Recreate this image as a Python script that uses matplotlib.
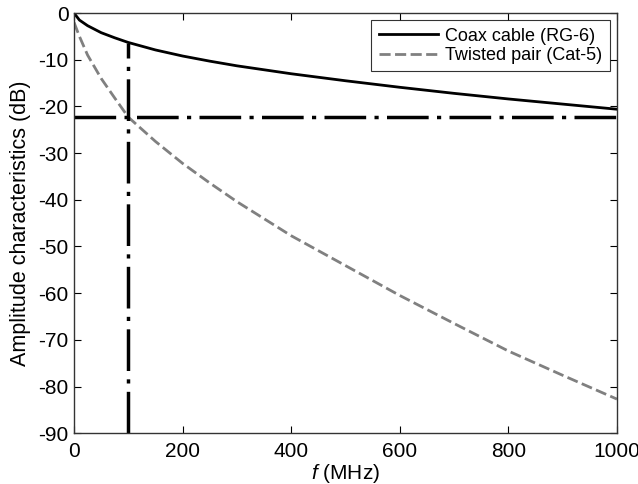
import numpy as np
import matplotlib
matplotlib.use("Agg")
import matplotlib.pyplot as plt

plt.rcParams['font.family'] = ['Liberation Sans', 'DejaVu Sans']
plt.rcParams['mathtext.fontset'] = 'custom'
plt.rcParams['mathtext.rm'] = 'Liberation Sans'
plt.rcParams['mathtext.it'] = 'Liberation Sans:italic'
plt.rcParams['axes.unicode_minus'] = False

# frequency (MHz) and attenuation (dB)
freq = [0, 10, 25, 50, 75, 100, 150, 200, 250, 300, 400, 500, 600, 700, 800, 900, 1000]
coax = [0, -1.5, -2.7, -4.2, -5.3, -6.3, -7.9, -9.2, -10.3, -11.3, -13.0, -14.5, -15.9, -17.2, -18.4, -19.5, -20.6]
twisted = [-2.0, -5.0, -9.0, -14.0, -18.2, -22.3, -27.5, -32.2, -36.4, -40.4, -47.7, -54.1, -60.5, -66.5, -72.4, -77.6, -82.7]

mark_f = 100
mark_db = -22.3
coax_at_mark = -6.5

fig = plt.figure(figsize=(6.38, 4.84), dpi=100)
ax = fig.add_axes([0.116, 0.105, 0.851, 0.868])

ax.plot(freq, coax, color='black', lw=2.0, label='Coax cable (RG-6)')
ax.plot(freq, twisted, color='#808080', lw=2.0, ls=(0, (4, 1.6)), label='Twisted pair (Cat-5)')

# marker lines
dashdot = (0, (12, 2.4, 1.2, 2.4))
ax.plot([mark_f, mark_f], [-90, coax_at_mark], color='black', lw=2.5, ls=dashdot)
ax.plot([0, 1000], [mark_db, mark_db], color='black', lw=2.5, ls=dashdot)

ax.set_xlim(0, 1000)
ax.set_ylim(-90, 0)
ax.set_xticks(np.arange(0, 1001, 200))
ax.set_yticks(np.arange(-90, 1, 10))
ax.tick_params(direction='in', top=True, right=True, labelsize=15, length=5, width=0.8)
ax.tick_params(axis='x', pad=6)
ax.tick_params(axis='y', pad=4)
for s in ax.spines.values():
    s.set_linewidth(1.0)
    s.set_color('#333333')

ax.set_xlabel('$f$ (MHz)', fontsize=15, labelpad=1)
ax.set_ylabel('Amplitude characteristics (dB)', fontsize=15.5, labelpad=5)

leg = ax.legend(loc='upper right', fontsize=13, frameon=True, fancybox=False,
                edgecolor='black', handlelength=3.3, borderpad=0.4, labelspacing=0.15,
                borderaxespad=0.4, handletextpad=0.4)
leg.get_frame().set_linewidth(0.8)

fig.savefig('out.png', dpi=100)
